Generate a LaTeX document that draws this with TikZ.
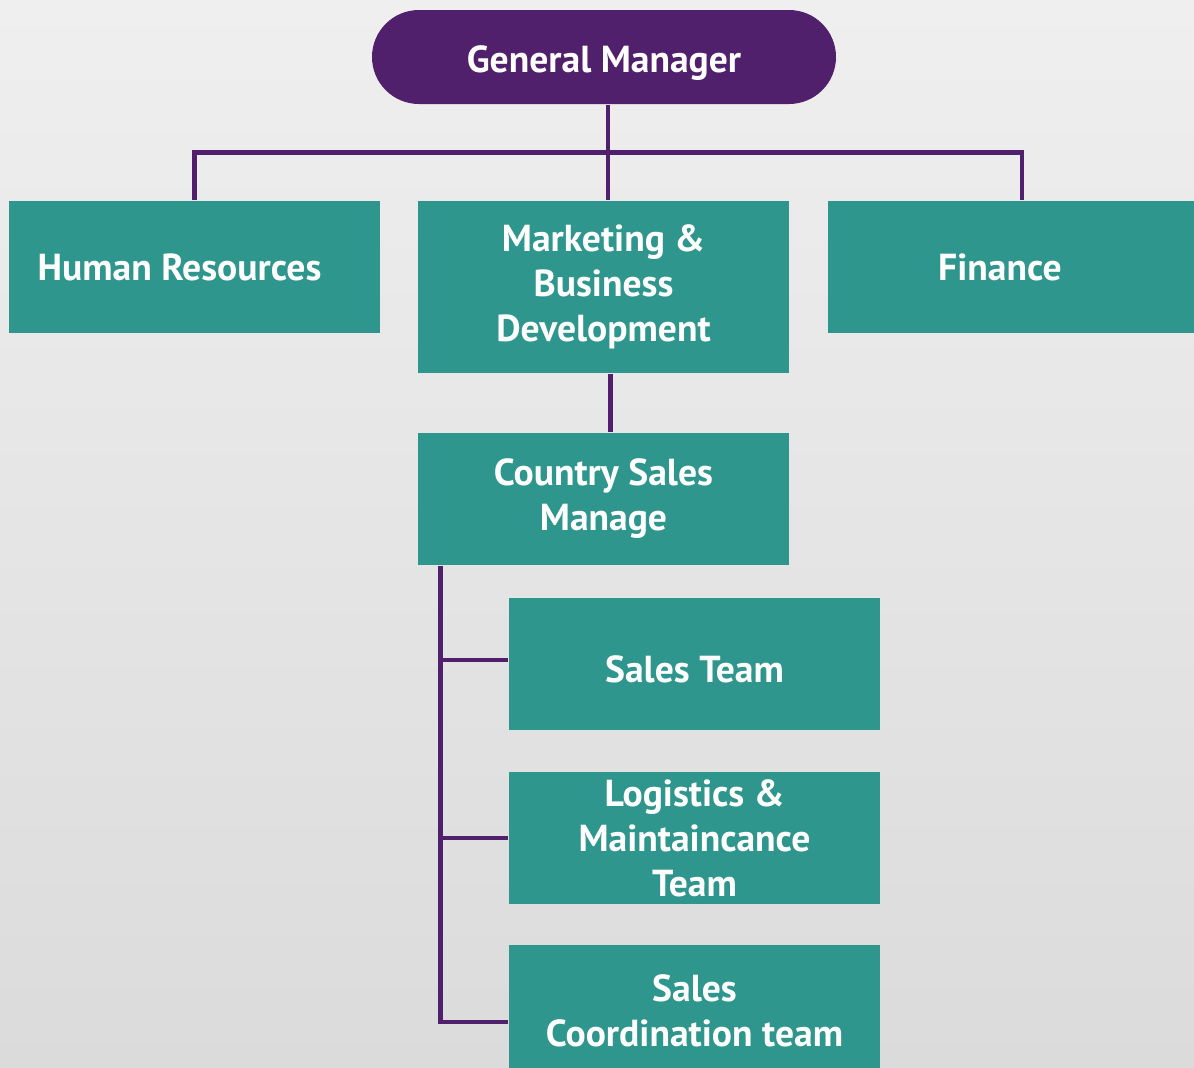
\documentclass[tikz,border=0pt]{standalone}
\usepackage{fontspec}
\setmainfont{PT Sans}
\usepackage{tikz}

\definecolor{gmpurple}{HTML}{50206C}
\definecolor{deptteal}{HTML}{2E968C}
\definecolor{bgtop}{HTML}{EFEFEF}
\definecolor{bgbottom}{HTML}{DBDBDB}

\tikzset{
    unit/.style={fill=deptteal, text=white, inner sep=0pt, align=center,
        minimum width=3.71cm, minimum height=1.32cm,
        font=\bfseries\fontsize{10.7}{12.8}\selectfont},
    link/.style={gmpurple, line width=1.4pt}
}

\begin{document}
\begin{tikzpicture}
    % Background
    \clip (0,0) rectangle (11.94,-10.68);
    \shade[top color=bgtop, bottom color=bgbottom] (0,0) rectangle (11.94,-10.68);

    % General Manager
    \node[unit, fill=gmpurple, rounded corners=0.47cm, minimum width=4.64cm,
        minimum height=0.94cm, text height=0.4cm, text depth=0.09cm] (gm) at (6.04,-0.57) {General Manager};

    % Departments
    \node[unit] (hr) at (1.945,-2.67) {Human Resources\hspace{0.3cm}};
    \node[unit, minimum height=1.72cm] (mkt) at (6.035,-2.87) {Marketing \&\\Business\\Development};
    \node[unit, minimum width=3.66cm] (fin) at (10.11,-2.67) {Finance\hspace{0.22cm}};

    % Sales branch
    \node[unit] (csm) at (6.035,-4.99) {Country Sales\\Manage};
    \node[unit, text height=0.37cm, text depth=0cm] (st) at (6.945,-6.64) {Sales Team};
    \node[unit] (log) at (6.945,-8.38) {Logistics \&\\Maintaincance\\Team};
    \node[unit] (sc) at (6.945,-10.11) {Sales\\Coordination team};

    % Connectors
    \coordinate (bus) at ([yshift=-0.48cm]gm.south);
    \draw[link] ([xshift=0.04cm]gm.south) -- ([xshift=0.04cm]gm.south |- mkt.north);
    \draw[link] (hr.north) |- (bus) -| ([xshift=0.11cm]fin.north);
    \draw[link] ([xshift=0.07cm]mkt.south) -- ([xshift=0.07cm]mkt.south |- csm.north);
    \coordinate (trunk) at ([xshift=0.23cm]csm.south west);
    \draw[link] (trunk) |- ([yshift=-0.11cm]sc.west);
    \draw[link] ([yshift=0.04cm]st.west) -- ([yshift=0.04cm]st.west -| trunk);
    \draw[link] (log.west) -- (log.west -| trunk);
\end{tikzpicture}
\end{document}
